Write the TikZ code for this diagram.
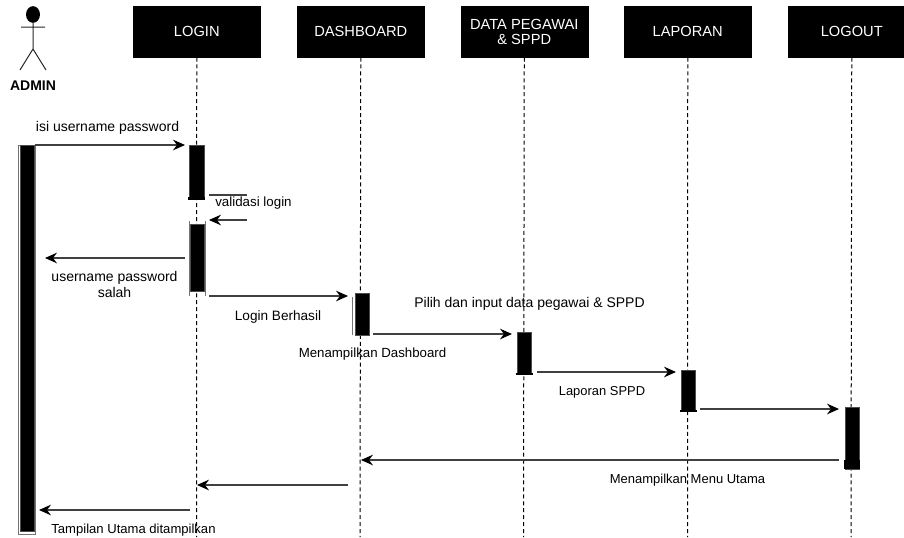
\documentclass[tikz,border=0pt]{standalone}
\usepackage{fontspec}
\setmainfont{Liberation Sans}
\usetikzlibrary{arrows.meta,shapes.geometric}
\newcommand{\fsz}[1]{\fontsize{#1}{12}\selectfont}
\tikzset{
  x=0.75pt,y=-0.75pt,
  head/.style={fill=black,draw=black,text=white,minimum width=95.25pt,minimum height=38.25pt,inner sep=0pt,align=center,font=\fontsize{11}{11.25}\selectfont,anchor=north west},
  life/.style={draw=black,dash pattern=on 3pt off 2.2pt,line width=0.75pt},
  bar/.style={fill=black,draw=black!70,line width=0.4pt,minimum width=10.5pt,inner sep=0pt,anchor=north west},
  shell/.style={draw=black!55,line width=0.6pt,fill=white,inner sep=0pt,anchor=north west},
  msg/.style={draw=black!75,line width=0.85pt,-{Stealth[length=9pt,width=8pt,inset=3pt,fill=black,color=black]}},
  plain/.style={draw=black!75,line width=0.85pt},
  lab/.style={text=black,align=center,inner sep=0pt},
  actorline/.style={draw=black!85,line width=0.75pt}
}
\begin{document}
\begin{tikzpicture}
\useasboundingbox (0,0) rectangle (904,537);
% header boxes
\node[head] (login) at (133,6) {LOGIN};
\node[head] (dash) at (297,6) {DASHBOARD};
\node[head] (data) at (460.5,6) {\raisebox{3pt}{\parbox{90pt}{\centering DATA PEGAWAI\\\& SPPD}}};
\node[head] (lapor) at (624,6) {LAPORAN};
\begin{scope}
\clip (780,0) rectangle (904,537);
\node[head] (logout) at (788,6) {LOGOUT};
\end{scope}
% lifeline ends
\coordinate (loginEnd) at (196.5,537);
\coordinate (dashEnd) at (360,537);
\coordinate (dataEnd) at (523.5,537);
\coordinate (laporEnd) at (687.5,537);
\coordinate (logoutEnd) at (851,537);
\draw[life] (login.south) -- (loginEnd);
\draw[life] (dash.south) -- (dashEnd);
\draw[life] (data.south) -- (dataEnd);
\draw[life] (lapor.south) -- (laporEnd);
\draw[life] (logout.south) -- (logoutEnd);
% actor
\node[fill=black,ellipse,minimum width=10.5pt,minimum height=12.5pt,inner sep=0pt] (headA) at (33,14.5) {};
\coordinate (hip) at (33,49);
\coordinate (armL) at (21,27);
\coordinate (armR) at (45,27);
\coordinate (legL) at (20,70);
\coordinate (legR) at (46,70);
\draw[actorline] (headA) -- (hip) (armL) -- (armR) (legL) -- (hip) -- (legR);
\node[font=\bfseries\fontsize{10.5}{12}\selectfont,inner sep=0pt] (admin) at (33,86) {ADMIN};
% activation bars
\draw[shell] (18,145) rectangle (35.7,534);
\draw[shell,fill=none] (189.5,221) -- (189.5,296) (205,221) -- (205,296);
\draw[shell,fill=none] (352,297) -- (352,335);
\node[bar,minimum height=289.5pt] (aAdmin) at (20,145) {};
\node[bar,minimum height=40.5pt,minimum width=11pt] (aLogin1) at (189,145) {};
\node[bar,minimum height=50pt,minimum width=10.5pt] (aLogin2) at (190,224) {};
\node[bar,minimum height=31.5pt] (aDash) at (355,293) {};
\node[bar,minimum height=31.5pt] (aData) at (517,332) {};
\node[bar,minimum height=31pt] (aLapor) at (681,370) {};
\node[bar,minimum height=46.5pt] (aLogout) at (845,407) {};
\fill[black] (843.5,460) rectangle (859.5,469);
\fill[black] (515.5,372.5) rectangle (532.5,374.5);
\fill[black] (679.5,409.5) rectangle (696.5,411.5);
\fill[black] (188,197) rectangle (204.5,199.5);
% free-end coordinates
\coordinate (c1) at (35,145);
\coordinate (c2) at (185,145);
\coordinate (c3) at (209,195);
\coordinate (c4) at (247,195);
\coordinate (c5) at (247,220);
\coordinate (c6) at (209,220);
\coordinate (c7) at (185,258);
\coordinate (c8) at (45,258);
\coordinate (c9) at (209,296);
\coordinate (c10) at (348,296);
\coordinate (c11) at (373,334);
\coordinate (c12) at (512,334);
\coordinate (c13) at (537,372);
\coordinate (c14) at (676,372);
\coordinate (c15) at (700,409);
\coordinate (c16) at (839,409);
\coordinate (c17) at (839,460);
\coordinate (c18) at (361,460);
\coordinate (c19) at (348,485);
\coordinate (c20) at (197,485);
\coordinate (c21) at (190,510);
\coordinate (c22) at (39,510);
\draw[msg] (c1) -- (c2);
\draw[plain] (c3) -- (c4);
\draw[msg] (c5) -- (c6);
\draw[msg] (c7) -- (c8);
\draw[msg] (c9) -- (c10);
\draw[msg] (c11) -- (c12);
\draw[msg] (c13) -- (c14);
\draw[msg] (c15) -- (c16);
\draw[msg] (c17) -- (c18);
\draw[msg] (c19) -- (c20);
\draw[msg] (c21) -- (c22);
% labels
\node[lab,font=\fsz{10.5}] (t1) at (107.5,127.5) {isi username password};
\node[lab,font=\fsz{10}] (t2) at (253.5,203) {validasi login};
\node[lab,font=\fsz{10.5}] (t3) at (114.5,284.5) {username password\\salah};
\node[lab,font=\fsz{10.2}] (t4) at (278,316.5) {Login Berhasil};
\node[lab,font=\fsz{9.95}] (t5) at (372.5,354.5) {Menampilkan Dashboard};
\node[lab,font=\fsz{10.5}] (t6) at (529.5,304) {Pilih dan input data pegawai \& SPPD};
\node[lab,font=\fsz{9.7}] (t7) at (602,392.5) {Laporan SPPD};
\node[lab,font=\fsz{9.75}] (t8) at (687.5,480.5) {Menampilkan Menu Utama};
\node[lab,font=\fsz{9.8}] (t9) at (133.5,530) {Tampilan Utama ditampilkan};
\end{tikzpicture}
\end{document}
